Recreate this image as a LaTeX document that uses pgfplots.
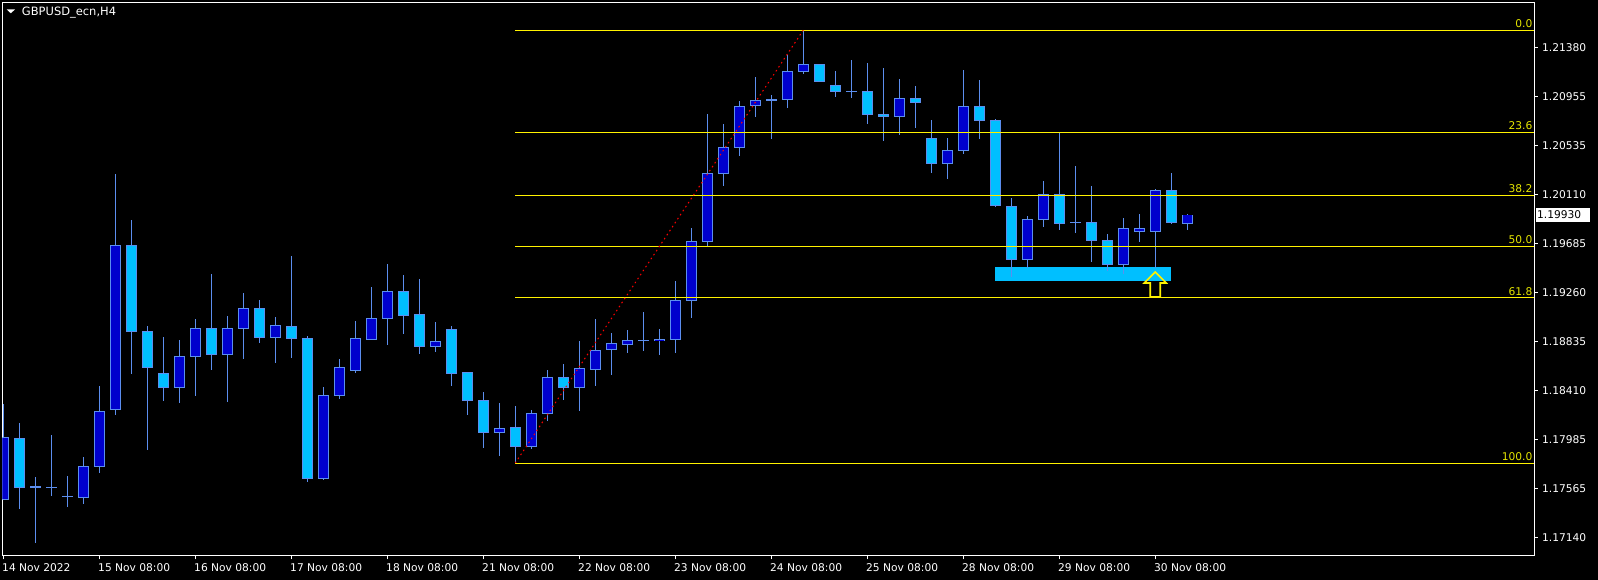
\documentclass[border=0pt]{standalone}
\usepackage{pgfplots}
\pgfplotsset{compat=1.18}
\usepackage{pgfplotstable}
\usepackage{fontspec}
\setmainfont{DejaVu Sans}
\definecolor{wick}{RGB}{92,142,238}
\definecolor{bullfill}{RGB}{0,0,205}
\definecolor{bearfill}{RGB}{0,191,255}
\definecolor{fibtxt}{RGB}{230,230,0}

\pgfplotstableread{
i o h l c
0 1.17470 1.18292 1.17460 1.18004
2 1.17582 1.17662 1.17095 1.17582
3 1.17578 1.18024 1.17501 1.17578
4 1.17496 1.17671 1.17400 1.17496
5 1.17486 1.17834 1.17431 1.17755
6 1.17755 1.18449 1.17700 1.18231
7 1.18247 1.20285 1.18202 1.19668
11 1.18439 1.18849 1.18308 1.18708
12 1.18705 1.19032 1.18365 1.18948
14 1.18724 1.19057 1.18314 1.18948
15 1.18951 1.19255 1.18686 1.19121
17 1.18871 1.19047 1.18653 1.18974
20 1.17652 1.18442 1.17636 1.18369
21 1.18369 1.18682 1.18340 1.18612
22 1.18586 1.19015 1.18567 1.18862
23 1.18855 1.19306 1.18852 1.19037
24 1.19037 1.19502 1.18807 1.19268
27 1.18792 1.19003 1.18749 1.18836
31 1.18049 1.18305 1.17841 1.18084
33 1.17928 1.18244 1.17908 1.18212
34 1.18212 1.18590 1.18151 1.18526
36 1.18436 1.18840 1.18238 1.18602
37 1.18593 1.19032 1.18452 1.18759
38 1.18768 1.18910 1.18548 1.18820
39 1.18811 1.18936 1.18740 1.18845
40 1.18845 1.19092 1.18756 1.18845
41 1.18845 1.18945 1.18715 1.18855
42 1.18855 1.19358 1.18740 1.19191
43 1.19191 1.19819 1.19041 1.19700
44 1.19700 1.20804 1.19665 1.20292
45 1.20289 1.20717 1.20184 1.20516
46 1.20516 1.20916 1.20443 1.20868
47 1.20878 1.21124 1.20779 1.20923
48 1.20926 1.20964 1.20590 1.20926
49 1.20929 1.21316 1.20858 1.21172
50 1.21172 1.21528 1.21153 1.21233
53 1.20999 1.21271 1.20945 1.20999
56 1.20782 1.21105 1.20625 1.20938
59 1.20378 1.20596 1.20244 1.20487
60 1.20487 1.21185 1.20462 1.20868
64 1.19546 1.19920 1.19469 1.19892
65 1.19892 1.20225 1.19822 1.20110
67 1.19867 1.20353 1.19776 1.19867
70 1.19502 1.19905 1.19421 1.19812
71 1.19790 1.19940 1.19697 1.19815
72 1.19790 1.20151 1.19469 1.20141
74 1.19853 1.19940 1.19800 1.19930
}\bull

\pgfplotstableread{
i o h l c
1 1.17998 1.18132 1.17390 1.17572
8 1.19668 1.19886 1.18557 1.18919
9 1.18922 1.18970 1.17899 1.18609
10 1.18561 1.18874 1.18324 1.18436
13 1.18948 1.19418 1.18593 1.18721
16 1.19121 1.19195 1.18826 1.18871
18 1.18967 1.19575 1.18696 1.18864
19 1.18864 1.18888 1.17623 1.17652
25 1.19268 1.19412 1.18900 1.19060
26 1.19070 1.19377 1.18730 1.18792
28 1.18941 1.18974 1.18452 1.18557
29 1.18567 1.18567 1.18202 1.18324
30 1.18327 1.18398 1.17918 1.18049
32 1.18094 1.18276 1.17784 1.17928
35 1.18526 1.18641 1.18334 1.18436
51 1.21233 1.21233 1.21082 1.21082
52 1.21050 1.21175 1.20954 1.20999
54 1.20999 1.21245 1.20721 1.20798
55 1.20801 1.21201 1.20573 1.20785
57 1.20938 1.21044 1.20683 1.20904
58 1.20593 1.20753 1.20295 1.20378
61 1.20868 1.21098 1.20590 1.20746
62 1.20750 1.20760 1.20001 1.20014
63 1.20004 1.20078 1.19396 1.19546
66 1.20110 1.20644 1.19796 1.19857
68 1.19867 1.20180 1.19527 1.19706
69 1.19706 1.19764 1.19444 1.19502
73 1.20141 1.20292 1.19848 1.19863
}\bear

\pgfplotsset{
  wickstyle/.style={draw=none, mark=none,
    error bars/.cd, y dir=both, y explicit, error mark=none,
    error bar style={draw=wick, line width=0.75pt}},
  bodyout/.style={draw=none, mark=none,
    error bars/.cd, y dir=both, y explicit, error mark=none,
    error bar style={draw=wick, line width=8.25pt}},
  bodyin/.style={draw=none, mark=none,
    error bars/.cd, y dir=both, y explicit, error mark=none,
    error bar style={draw=#1, line width=6.75pt}},
}

\begin{document}
\begin{tikzpicture}
\fill[black] (-1.725pt,-18pt) rectangle (1196.775pt,417pt);
\begin{axis}[
  at={(0,0)}, anchor=south west,
  scale only axis, width=1149pt, height=415.35pt,
  xmin=-0.0625, xmax=95.6875, ymin=1.16980, ymax=1.21770,
  axis line style={white, line width=0.75pt},
  xtick={0,6,...,72},
  xticklabels={14 Nov 2022,15 Nov 08:00,16 Nov 08:00,17 Nov 08:00,18 Nov 08:00,21 Nov 08:00,22 Nov 08:00,23 Nov 08:00,24 Nov 08:00,25 Nov 08:00,28 Nov 08:00,29 Nov 08:00,30 Nov 08:00},
  ytick={1.21380,1.20956,1.20532,1.20108,1.19684,1.19260,1.18836,1.18412,1.17988,1.17564,1.17140},
  yticklabels={1.21380,1.20955,1.20535,1.20110,1.19685,1.19260,1.18835,1.18410,1.17985,1.17565,1.17140},
  xtick pos=bottom, ytick pos=right,
  tick align=outside, major tick length=2.5pt,
  tick style={white, line width=0.75pt},
  ticklabel style={font=\fontsize{8}{9.6}\selectfont, text=white},
  xticklabel style={anchor=north west, inner sep=0pt, xshift=-1pt, yshift=-3pt},
  yticklabel style={anchor=west, inner sep=0pt, xshift=3.2pt},
  scaled y ticks=false,
  clip=true,
]
% support zone rectangle
\addplot[fill=bearfill, draw=none] coordinates {(62,1.19480) (73,1.19480) (73,1.19358) (62,1.19358)} --cycle;
% wicks
\addplot[wickstyle] table[x=i, y expr={(\thisrow{h}+\thisrow{l})/2}, y error expr={(\thisrow{h}-\thisrow{l})/2}] {\bull};
\addplot[wickstyle] table[x=i, y expr={(\thisrow{h}+\thisrow{l})/2}, y error expr={(\thisrow{h}-\thisrow{l})/2}] {\bear};
% bodies
\addplot[bodyout] table[x=i, y expr={(\thisrow{o}+\thisrow{c})/2}, y error expr={abs(\thisrow{c}-\thisrow{o})/2+0.00004}] {\bull};
\addplot[bodyout] table[x=i, y expr={(\thisrow{o}+\thisrow{c})/2}, y error expr={abs(\thisrow{c}-\thisrow{o})/2+0.00004}] {\bear};
\addplot[bodyin=bullfill] table[x=i, y expr={(\thisrow{o}+\thisrow{c})/2}, y error expr={max(abs(\thisrow{c}-\thisrow{o})/2-0.00004,0)}] {\bull};
\addplot[bodyin=bearfill] table[x=i, y expr={(\thisrow{o}+\thisrow{c})/2}, y error expr={max(abs(\thisrow{c}-\thisrow{o})/2-0.00004,0)}] {\bear};
% fibonacci levels
\addplot[yellow, line width=0.75pt] coordinates {(32,1.21528) (95.6875,1.21528)};
\addplot[yellow, line width=0.75pt] coordinates {(32,1.20645) (95.6875,1.20645)};
\addplot[yellow, line width=0.75pt] coordinates {(32,1.20100) (95.6875,1.20100)};
\addplot[yellow, line width=0.75pt] coordinates {(32,1.19656) (95.6875,1.19656)};
\addplot[yellow, line width=0.75pt] coordinates {(32,1.19214) (95.6875,1.19214)};
\addplot[yellow, line width=0.75pt] coordinates {(32,1.17784) (95.6875,1.17784)};
% trend line
\addplot[red, line width=0.75pt, dash pattern=on 1.2pt off 2.4pt] coordinates {(32,1.17784) (50,1.21528)};
% arrow
\addplot[yellow, line width=1.2pt] coordinates {(71.6875,1.19220) (71.6875,1.19341) (71.3125,1.19341) (72,1.19437) (72.6875,1.19341) (72.3125,1.19341) (72.3125,1.19220)} --cycle;
% fib labels
\begin{scope}[every node/.style={anchor=south east, inner sep=0pt, xshift=-1.2pt, yshift=1.7pt, text=fibtxt, font=\fontsize{8}{9.6}\selectfont}]
\node at (axis cs:95.6875,1.21528) {0.0};
\node at (axis cs:95.6875,1.20645) {23.6};
\node at (axis cs:95.6875,1.20100) {38.2};
\node at (axis cs:95.6875,1.19656) {50.0};
\node at (axis cs:95.6875,1.19214) {61.8};
\node at (axis cs:95.6875,1.17784) {100.0};
\end{scope}
\coordinate (cp) at (axis cs:95.6875,1.19930);
\end{axis}
\node[anchor=west, fill=white, text=black, inner xsep=1.2pt, inner ysep=0pt, minimum height=10pt, text width=38.5pt, align=left, font=\fontsize{8}{9.6}\selectfont, xshift=0.75pt] at (cp) {1.19930};
\fill[white] (3.3pt,410pt) -- (9.525pt,410pt) -- (6.41pt,407pt) -- cycle;
\node[anchor=base west, inner sep=0pt, text=white, font=\fontsize{8.6}{10.3}\selectfont] at (14.55pt,405pt) {GBPUSD\_ecn,H4};
\pgfresetboundingbox
\path (-1.725pt,-18pt) rectangle (1196.775pt,417pt);
\end{tikzpicture}
\end{document}
